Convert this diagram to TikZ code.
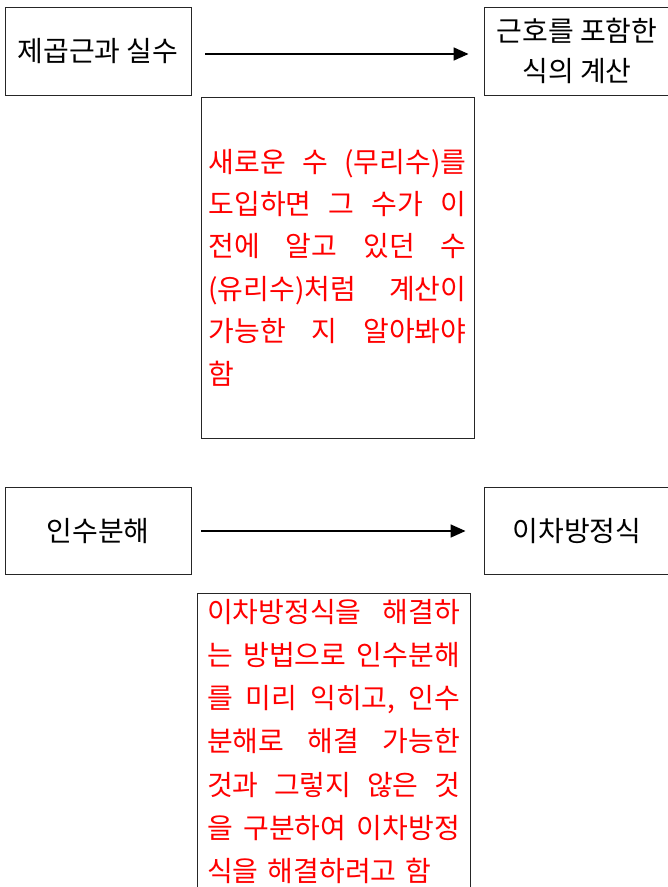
\documentclass[tikz,border=0pt]{standalone}
\usepackage{fontspec}
\newfontfamily\kr{Noto Sans CJK KR}
\usetikzlibrary{arrows.meta}
\begin{document}
\begin{tikzpicture}[x=1pt,y=-1pt,
  box/.style={draw=black!85,line width=0.9pt,inner sep=0pt},
  lbl/.style={box,minimum width=186pt,minimum height=88pt,font=\kr\fontsize{28}{40}\selectfont,align=center},
  redbox/.style={box,text=red,align=left},
  conn/.style={line width=1.6pt,-{Triangle[length=15pt,width=13pt]}}]
\useasboundingbox (0,0) rectangle (668,887);
\node[lbl] (a) at (98,51) {제곱근과 실수};
\node[lbl] (b) at (577,51) {근호를 포함한\\식의 계산};
\draw[conn] ([shift={(14,3)}]a.east) -- ([shift={(-15,3)}]b.west);
\node[redbox,minimum width=273pt,minimum height=341pt,text width=258pt,
  font=\kr\fontsize{28}{42.4}\selectfont] (r1) at (337.5,267.5) {%
\makebox[258pt][l]{새로운\hfill 수\hfill (무리수)를}\\
\makebox[258pt][l]{도입하면\hfill 그\hfill 수가\hfill 이}\\
\makebox[258pt][l]{전에\hfill 알고\hfill 있던\hfill 수}\\
\makebox[258pt][l]{(유리수)처럼\hfill 계산이}\\
\makebox[258pt][l]{가능한\hfill 지\hfill 알아봐야}\\
함};
\node[lbl,minimum height=87pt] (c) at (98,531) {인수분해};
\node[lbl,minimum height=87pt] (d) at (577,531) {이차방정식};
\draw[conn] ([xshift=10pt]c.east) -- ([xshift=-18pt]d.west);
\node[redbox,minimum width=273pt,minimum height=297pt,text width=253pt,
  font=\kr\fontsize{28}{43.2}\selectfont] (r2) at (333.5,741.5) {%
\makebox[253pt][l]{이차방정식을\hfill 해결하}\\
\makebox[253pt][l]{는\hfill 방법으로\hfill 인수분해}\\
\makebox[253pt][l]{를\hfill 미리\hfill 익히고,\hfill 인수}\\
\makebox[253pt][l]{분해로\hfill 해결\hfill 가능한}\\
\makebox[253pt][l]{것과\hfill 그렇지\hfill 않은\hfill 것}\\
\makebox[253pt][l]{을\hfill 구분하여\hfill 이차방정}\\
식을 해결하려고 함};
\end{tikzpicture}
\end{document}
